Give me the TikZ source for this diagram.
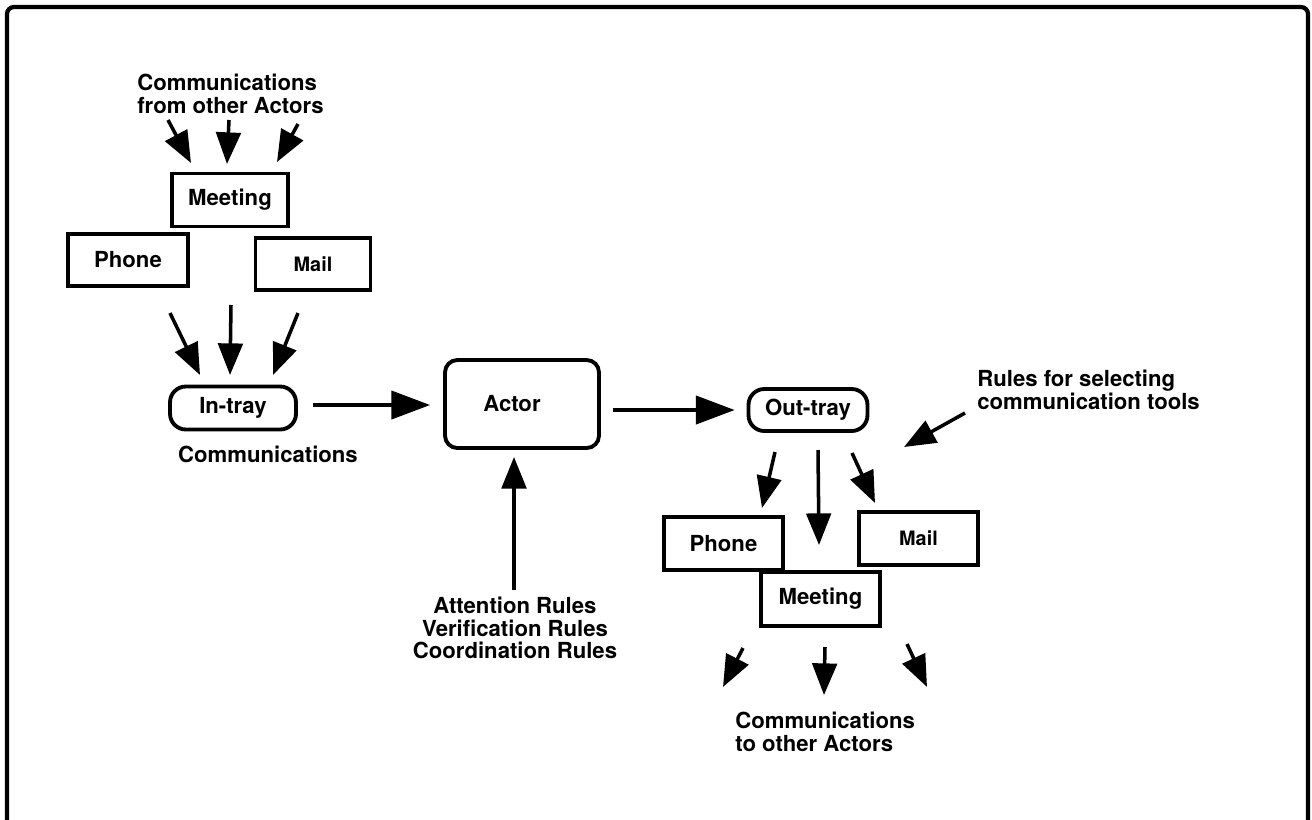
\documentclass[tikz,border=0pt]{standalone}
\usepackage{fontspec}
\setmainfont{TeX Gyre Heros}
\usetikzlibrary{arrows.meta}
\begin{document}
\begin{tikzpicture}[x=0.02cm,y=-0.02cm,
  lbl/.style={font=\bfseries\fontsize{12.6pt}{12.7pt}\selectfont, inner sep=0pt},
  small/.style={font=\bfseries\fontsize{11.3pt}{12pt}\selectfont},
  tool/.style={lbl, draw, line width=2.2pt, fill=white, rectangle},
  tray/.style={tool, rounded corners=9pt},
  frame/.style={line width=2.4pt, rounded corners=4pt},
  arr/.style={line width=2pt, -{Triangle[length=18pt,width=14pt]}},
  harr/.style={line width=2pt, -{Triangle[length=22pt,width=16pt]}}]
\useasboundingbox (0,0) rectangle (1312,819);

% outer frame, open at the bottom
\draw[frame] (7,835) -- (7,7) -- (1308,7) -- (1308,835);

% incoming side
\node[lbl, anchor=north west, align=left] (fromtxt) at (137,74) {Communications\\from other Actors};
\node[tool, minimum width=2.32cm, minimum height=1.06cm] (meetA) at (230,200) {Meeting};
\node[tool, minimum width=2.40cm, minimum height=1.04cm] (phoneA) at (128,260) {Phone};
\node[tool, small, minimum width=2.30cm, minimum height=1.04cm] (mailA) at (313,264) {Mail};
\node[tray, minimum width=2.52cm, minimum height=0.86cm] (intray) at (233,408) {In-tray};
\node[lbl] (commtxt) at (268,454) {Communications};

% arrows into the meeting box
\coordinate (fa1) at (168,120); \coordinate (fb1) at (191,163);
\coordinate (fa2) at (229,120); \coordinate (fb2) at (227,164);
\coordinate (fa3) at (298,124); \coordinate (fb3) at (277,162);
\draw[arr] (fa1) -- (fb1);
\draw[arr] (fa2) -- (fb2);
\draw[arr] (fa3) -- (fb3);

% arrows into the in-tray
\coordinate (ia1) at (170,313); \coordinate (ib1) at (200,375);
\coordinate (ia2) at (231,305); \coordinate (ib2) at (230,375);
\coordinate (ia3) at (298,313); \coordinate (ib3) at (273,375);
\draw[arr] (ia1) -- (ib1);
\draw[arr] (ia2) -- (ib2);
\draw[arr] (ia3) -- (ib3);

% actor
\node[tray, minimum width=3.08cm, minimum height=1.76cm, rounded corners=7pt,
      label={[lbl, xshift=-5.7pt]center:Actor}] (actor) at (522,404) {};
\draw[harr, shorten <=8.5pt, shorten >=7.4pt] ([yshift=1.7pt]intray.east) -- ([yshift=1.7pt]intray.east -| actor.west);

\coordinate (rx) at (514,0);
\node[lbl, anchor=north, align=center] (rulestxt) at (515,597) {Attention Rules\\Verification Rules\\Coordination Rules};
\draw[arr, shorten <=4pt, shorten >=4pt] (rulestxt.north -| rx) -- (actor.south -| rx);

% outgoing side
\node[tray, minimum width=2.38cm, minimum height=0.84cm] (outtray) at (808,410) {Out-tray};
\draw[harr, shorten <=6.8pt, shorten >=6.8pt] (actor.east |- outtray.west) -- (outtray.west);

\node[lbl, anchor=north west, align=left] (seltxt) at (977,370) {Rules for selecting\\communication tools};
\coordinate (sa) at (965,413); \coordinate (sb) at (904,447);
\draw[arr] (sa) -- (sb);

\node[tool, minimum width=2.38cm, minimum height=1.06cm] (phoneB) at (723.5,543.5) {Phone};
\node[tool, small, minimum width=2.38cm, minimum height=1.06cm] (mailB) at (918.5,538.5) {Mail};
\node[tool, minimum width=2.38cm, minimum height=1.08cm] (meetB) at (820.5,599) {Meeting};

% arrows out of the out-tray
\coordinate (oa1) at (775,452); \coordinate (ob1) at (762,508);
\coordinate (oa2) at (818,450); \coordinate (ob2) at (819,545);
\coordinate (oa3) at (852,453); \coordinate (ob3) at (875,503);
\draw[arr] (oa1) -- (ob1);
\draw[arr] (oa2) -- (ob2);
\draw[arr] (oa3) -- (ob3);

% arrows towards other actors
\coordinate (ta1) at (743,648); \coordinate (tb1) at (723,687);
\coordinate (ta2) at (825,647); \coordinate (tb2) at (824,695);
\coordinate (ta3) at (907,644); \coordinate (tb3) at (927,687);
\draw[arr] (ta1) -- (tb1);
\draw[arr] (ta2) -- (tb2);
\draw[arr] (ta3) -- (tb3);

\node[lbl, anchor=north west, align=left] (totxt) at (735,712) {Communications\\to other Actors};
\end{tikzpicture}
\end{document}
